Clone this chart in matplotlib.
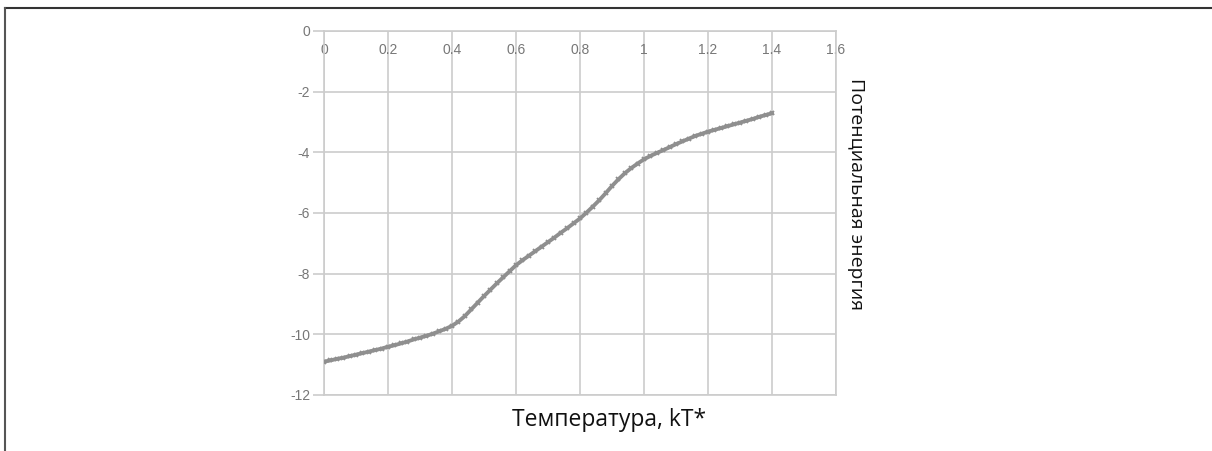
"""
Potential energy vs temperature curve.
"""
import matplotlib.pyplot as plt
from matplotlib.lines import Line2D
import numpy as np

# temperature, kT*
temperature = [
    0.00, 0.02, 0.04, 0.06, 0.08, 0.10, 0.12, 0.14, 0.16, 0.18,
    0.20, 0.22, 0.24, 0.26, 0.28, 0.30, 0.32, 0.34, 0.36, 0.38,
    0.40, 0.42, 0.44, 0.46, 0.48, 0.50, 0.52, 0.54, 0.56, 0.58,
    0.60, 0.62, 0.64, 0.66, 0.68, 0.70, 0.72, 0.74, 0.76, 0.78,
    0.80, 0.82, 0.84, 0.86, 0.88, 0.90, 0.92, 0.94, 0.96, 0.98,
    1.00, 1.02, 1.04, 1.06, 1.08, 1.10, 1.12, 1.14, 1.16, 1.18,
    1.20, 1.22, 1.24, 1.26, 1.28, 1.30, 1.32, 1.34, 1.36, 1.38,
    1.40,
]
# potential energy
energy = [
    -10.90, -10.86, -10.81, -10.77, -10.72, -10.67, -10.62, -10.57, -10.52, -10.47,
    -10.41, -10.36, -10.30, -10.24, -10.17, -10.11, -10.05, -9.98, -9.90, -9.82,
    -9.72, -9.58, -9.40, -9.18, -8.96, -8.74, -8.53, -8.32, -8.12, -7.92,
    -7.72, -7.56, -7.41, -7.26, -7.11, -6.96, -6.81, -6.65, -6.50, -6.34,
    -6.18, -5.99, -5.79, -5.58, -5.35, -5.11, -4.89, -4.69, -4.52, -4.37,
    -4.23, -4.12, -4.02, -3.93, -3.83, -3.73, -3.64, -3.55, -3.46, -3.39,
    -3.32, -3.26, -3.20, -3.14, -3.08, -3.02, -2.96, -2.90, -2.83, -2.77,
    -2.71,
]

x_ticks = [0, 0.2, 0.4, 0.6, 0.8, 1, 1.2, 1.4, 1.6]
x_labels = ['0', '0.2', '0.4', '0.6', '0.8', '1', '1.2', '1.4', '1.6']
y_ticks = [0, -2, -4, -6, -8, -10, -12]

plt.rcParams['axes.unicode_minus'] = False

W, H = 1212, 451
fig = plt.figure(figsize=(W / 100, H / 100), dpi=100)
ax = fig.add_axes([324 / W, 1 - 395 / H, 512 / W, 364 / H])

grid_c = '#cccccc'
ax.plot(temperature, energy, color='#8f8f8f', lw=2.8, marker='x',
        markersize=3.5, markeredgewidth=1.3, zorder=3)

ax.set_xlim(0, 1.6)
ax.set_ylim(-12, 0)
ax.set_xticks(x_ticks)
ax.set_xticklabels(x_labels)
ax.set_yticks(y_ticks)
ax.grid(True, color=grid_c, lw=1.2)
for s in ax.spines.values():
    s.set_color(grid_c)
    s.set_linewidth(1.2)

ax.xaxis.tick_top()
ax.tick_params(axis='x', length=0, pad=-19, labelsize=10, labelcolor='#777777')
ax.tick_params(axis='y', length=8, width=1.2, color=grid_c, pad=2,
               labelsize=10, labelcolor='#777777')
for lab in ax.get_xticklabels() + ax.get_yticklabels():
    lab.set_family('Liberation Sans')

fig.text(609 / W, 1 - 420 / H, 'Температура, kT*', ha='center', va='center',
         fontsize=16.5, family='Open Sans', color='#111111')
fig.text(856 / W, 1 - 194 / H, 'Потенциальная энергия', ha='center', va='center',
         rotation=-90, fontsize=14, family='Open Sans', color='#111111')

# frame lines at top and left edge
fig.add_artist(Line2D([5 / W, 1], [1 - 8 / H, 1 - 8 / H], color='#333333', lw=1.5))
fig.add_artist(Line2D([5 / W, 5 / W], [0, 1 - 8 / H], color='#555555', lw=1.5))

plt.savefig('out.png', dpi=100)
plt.close()
